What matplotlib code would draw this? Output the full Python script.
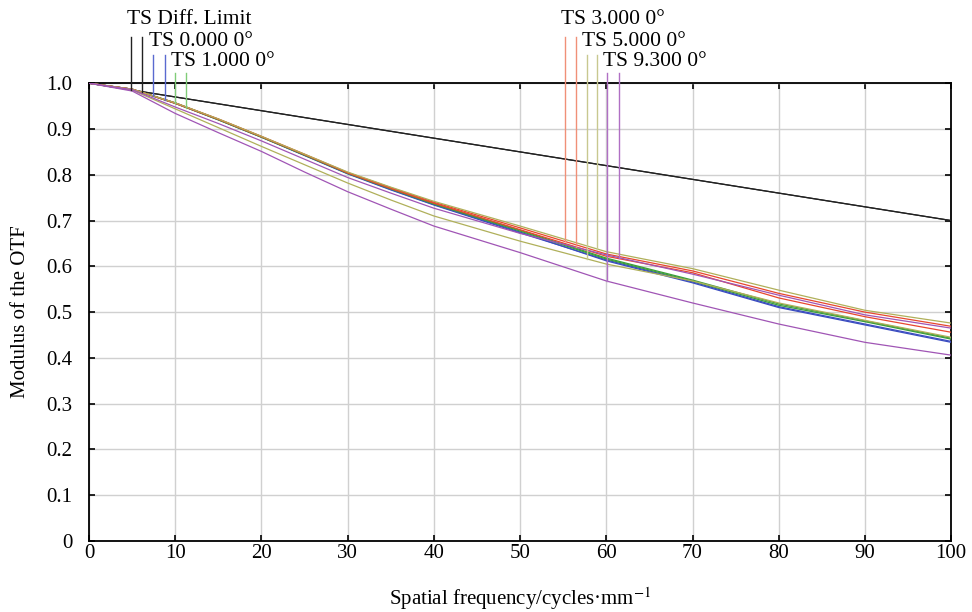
import numpy as np
import matplotlib
matplotlib.use("Agg")
import matplotlib.pyplot as plt

plt.rcParams['font.family'] = ['Liberation Serif', 'DejaVu Serif']
plt.rcParams['mathtext.fontset'] = 'stix'

# spatial frequency samples (cycles/mm)
freq = [0, 5, 10, 15, 20, 25, 30, 35, 40, 50, 60, 70, 80, 90, 100]

diff_limit = [1.0, 0.985, 0.970, 0.955, 0.940, 0.925, 0.910, 0.895, 0.880, 0.850,
              0.820, 0.790, 0.760, 0.730, 0.700]

f0_t = [1.0, 0.987, 0.957, 0.921, 0.883, 0.843, 0.803, 0.768, 0.735, 0.675, 0.612, 0.564, 0.510, 0.472, 0.434]
f0_s = [1.0, 0.987, 0.956, 0.920, 0.882, 0.842, 0.802, 0.767, 0.734, 0.673, 0.614, 0.566, 0.512, 0.474, 0.436]
f1_t = [1.0, 0.987, 0.957, 0.921, 0.883, 0.843, 0.803, 0.769, 0.736, 0.677, 0.616, 0.568, 0.515, 0.479, 0.441]
f1_s = [1.0, 0.987, 0.956, 0.920, 0.882, 0.843, 0.804, 0.770, 0.737, 0.679, 0.618, 0.570, 0.518, 0.481, 0.443]
f3_t = [1.0, 0.987, 0.957, 0.922, 0.884, 0.845, 0.805, 0.772, 0.740, 0.684, 0.627, 0.590, 0.541, 0.500, 0.469]
f3_s = [1.0, 0.987, 0.956, 0.921, 0.883, 0.844, 0.804, 0.770, 0.738, 0.680, 0.622, 0.586, 0.531, 0.490, 0.456]
f5_t = [1.0, 0.985, 0.944, 0.903, 0.862, 0.822, 0.782, 0.745, 0.710, 0.655, 0.605, 0.568, 0.520, 0.482, 0.445]
f5_s = [1.0, 0.987, 0.957, 0.922, 0.884, 0.845, 0.806, 0.773, 0.742, 0.688, 0.632, 0.595, 0.548, 0.504, 0.476]
f93_t = [1.0, 0.983, 0.934, 0.892, 0.851, 0.806, 0.763, 0.725, 0.688, 0.630, 0.568, 0.520, 0.474, 0.434, 0.406]
f93_s = [1.0, 0.986, 0.948, 0.912, 0.874, 0.834, 0.794, 0.760, 0.727, 0.672, 0.625, 0.583, 0.537, 0.494, 0.465]

# label, curve colour, marker colour, curves (T, S), marker x positions, label row
groups = [
    ("TS Diff. Limit", "#222222", "#222222", [diff_limit, diff_limit], [4.9, 6.1], 0),
    ("TS 0.000 0°", "#3a4cc0", "#5a6ad0", [f0_t, f0_s], [7.4, 8.8], 1),
    ("TS 1.000 0°", "#3c9e3a", "#80cc78", [f1_t, f1_s], [10.0, 11.3], 2),
    ("TS 3.000 0°", "#e8472e", "#f09078", [f3_t, f3_s], [55.2, 56.5], 0),
    ("TS 5.000 0°", "#b0b05a", "#c8c890", [f5_t, f5_s], [57.7, 58.9], 1),
    ("TS 9.300 0°", "#a055b5", "#b070c4", [f93_t, f93_s], [60.1, 61.5], 2),
]

fig = plt.figure(figsize=(9.72, 6.12), dpi=100)
ax = fig.add_axes([0.0916, 0.116, 0.887, 0.748])

for name, col, mcol, curves, mx, row in groups:
    for c in curves:
        ax.plot(freq, c, color=col, lw=0.9, zorder=3)

ax.set_xlim(0, 100)
ax.set_ylim(0, 1.0)
ax.set_xticks(np.arange(0, 101, 10))
ax.set_yticks(np.arange(0, 1.01, 0.1))
ax.set_yticklabels(["0"] + ["%.1f" % v for v in np.arange(0.1, 1.01, 0.1)])
ax.grid(True, color="#d0d0d0", lw=1.0)
ax.set_axisbelow(True)
ax.tick_params(direction="in", length=4, width=1.2, labelsize=15,
               top=True, right=True)
ax.tick_params(axis="x", pad=2)
ax.tick_params(axis="y", pad=12)
for s in ax.spines.values():
    s.set_linewidth(1.3)

ax.set_xlabel("Spatial frequency/cycles·mm$^{-1}$", fontsize=15, labelpad=16)
ax.set_ylabel("Modulus of the OTF", fontsize=15, labelpad=12)

# labels above the plot with marker lines down to the curves
row_y = [1.140, 1.092, 1.048]
line_top = [1.100, 1.061, 1.022]
for name, col, mcol, curves, mx, row in groups:
    ax.text(mx[0] - 0.5, row_y[row], name, fontsize=15.5, ha="left",
            va="center", clip_on=False)
    for xm, c in zip(mx, curves):
        yb = np.interp(xm, freq, c)
        ax.plot([xm, xm], [yb, line_top[row]], color=mcol,
                lw=1.0, clip_on=False, zorder=4)

fig.savefig("out.png", dpi=100)
